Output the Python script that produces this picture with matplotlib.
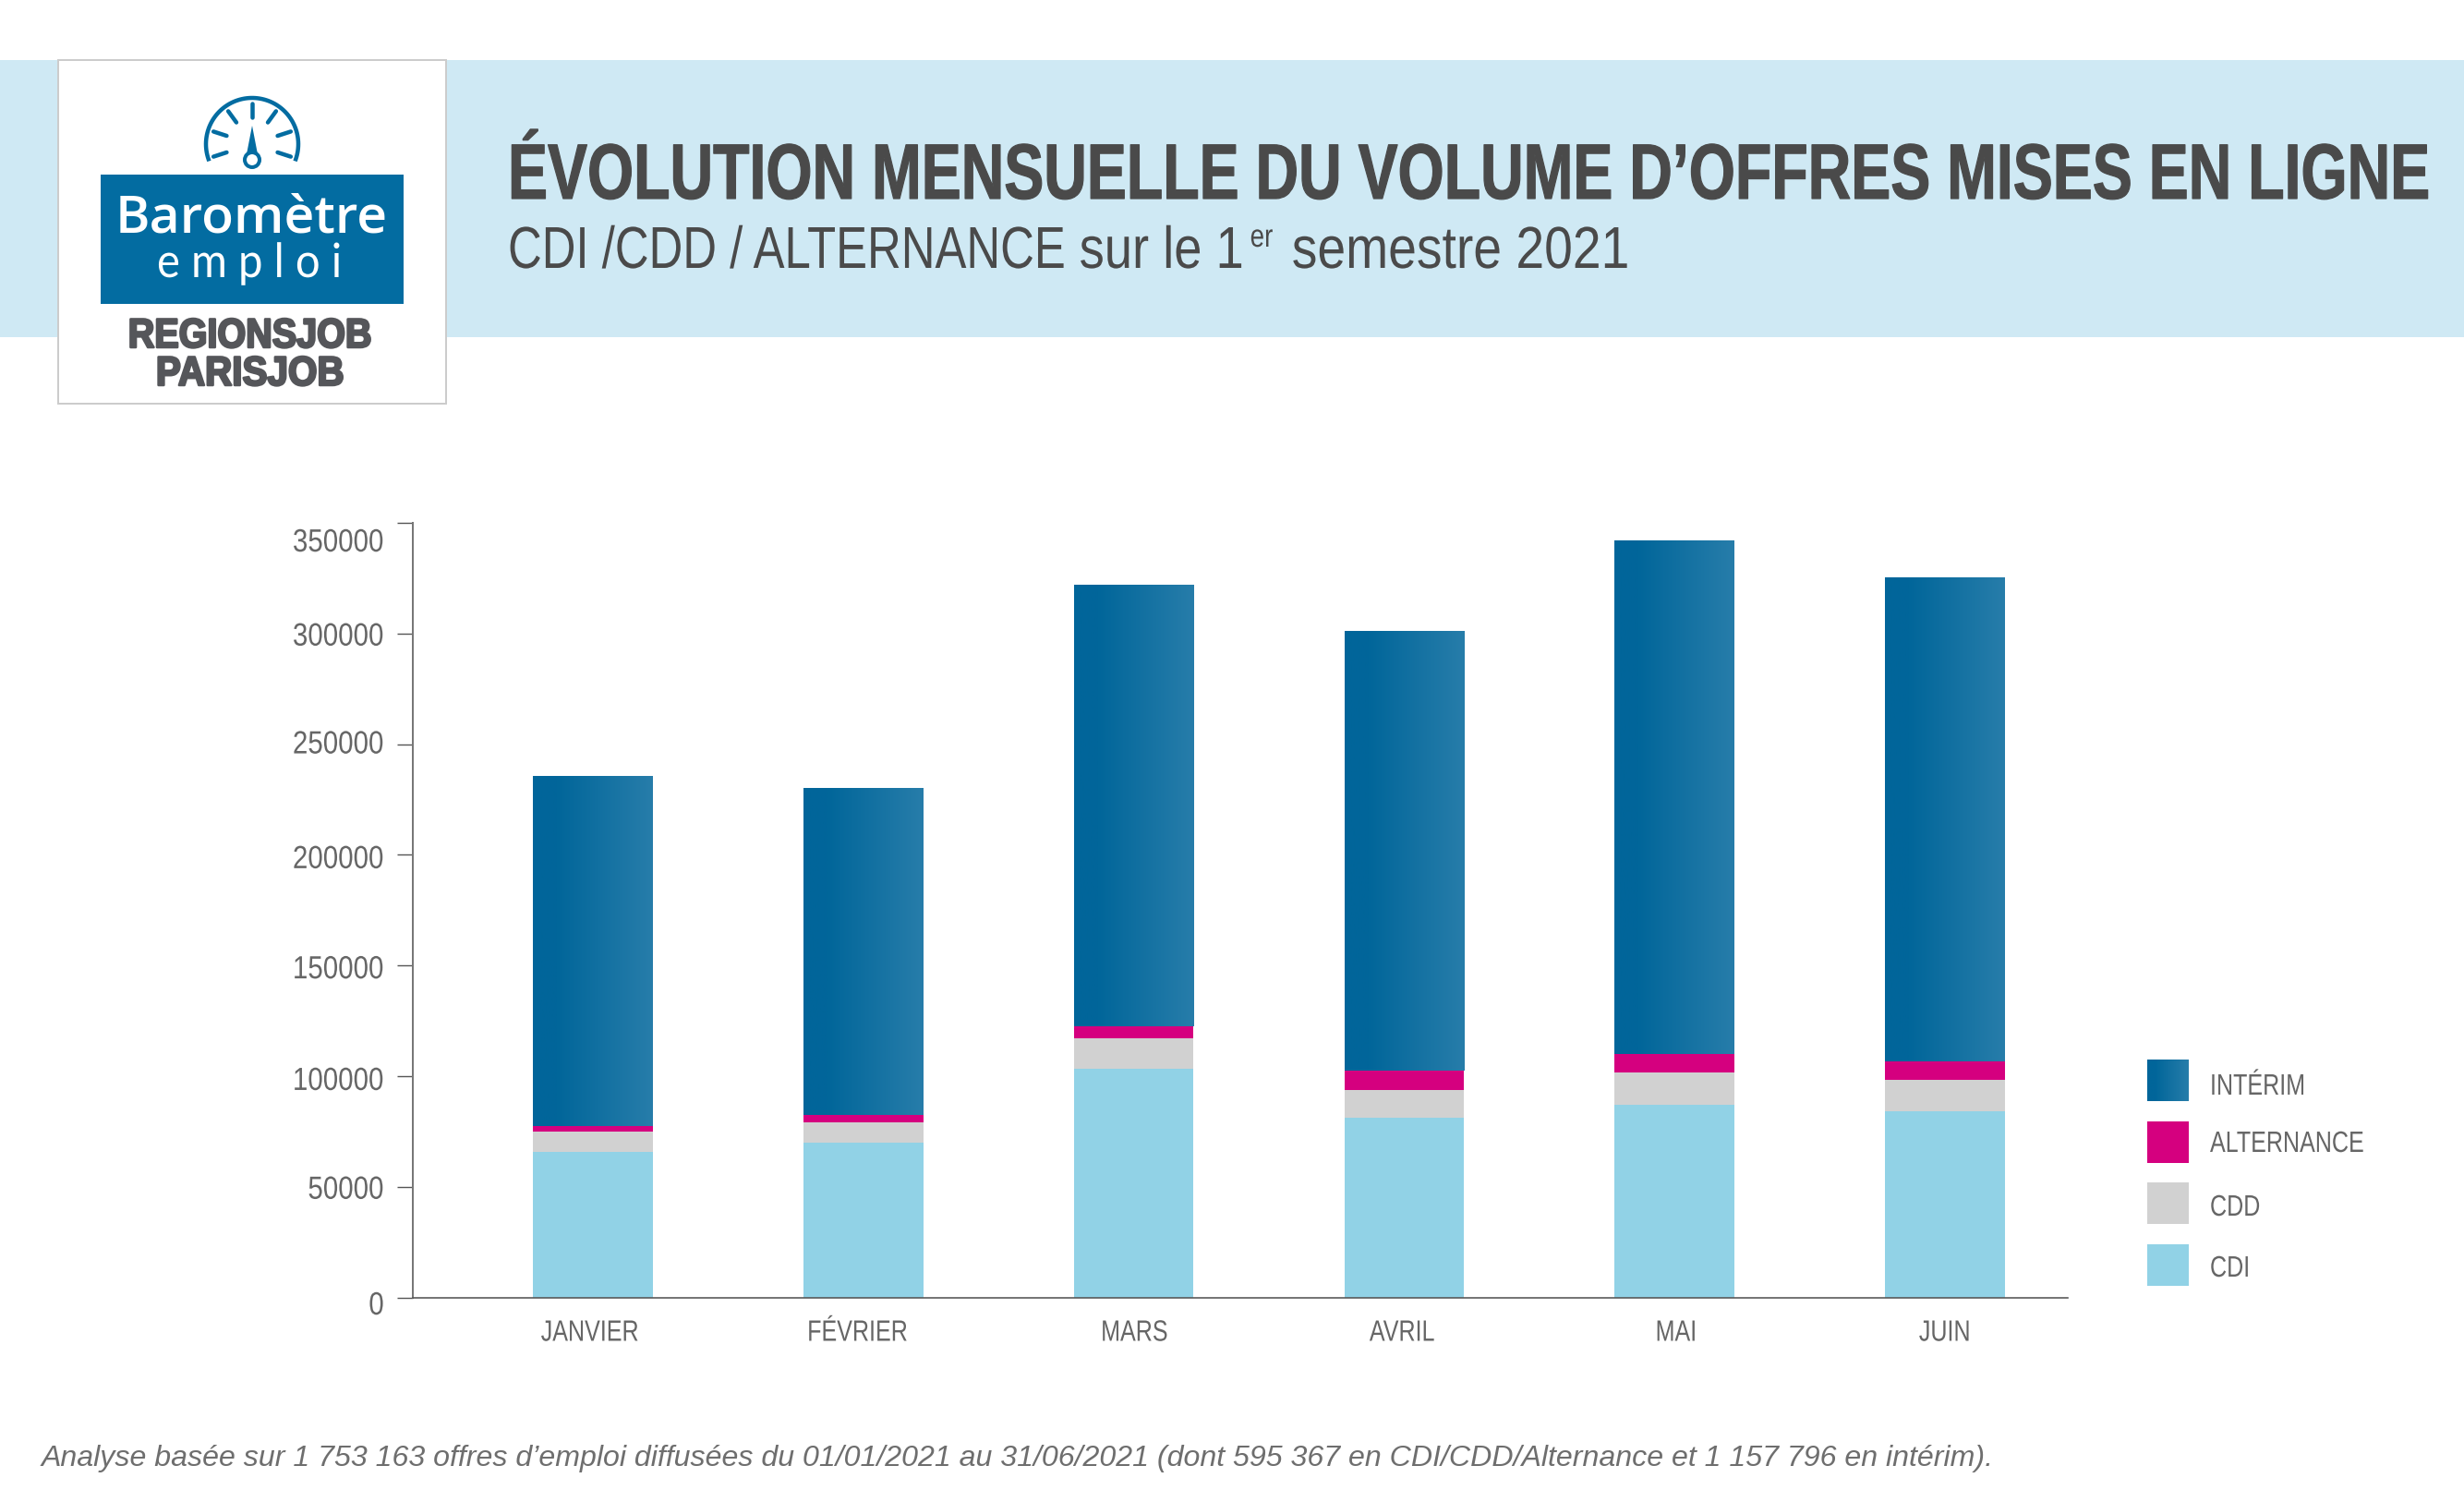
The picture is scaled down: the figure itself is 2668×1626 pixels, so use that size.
import numpy as np
import matplotlib
matplotlib.use('Agg')
import matplotlib.pyplot as plt
from matplotlib.colors import LinearSegmentedColormap
from matplotlib.patches import Rectangle, Circle, Polygon
from matplotlib.transforms import Affine2D, ScaledTranslation
import matplotlib.patheffects as pe

months = ['JANVIER', 'FÉVRIER', 'MARS', 'AVRIL', 'MAI', 'JUIN']
cdi = [65900, 70000, 103400, 81300, 87200, 84200]
cdd = [9000, 9100, 13500, 12300, 14500, 14200]
alternance = [2400, 3200, 5600, 8900, 8200, 8100]
interim = [158300, 147900, 199400, 198500, 232000, 218700]
y_ticks = [0, 50000, 100000, 150000, 200000, 250000, 300000, 350000]
legend_labels = ['INTÉRIM', 'ALTERNANCE', 'CDD', 'CDI']

W, H = 2668, 1626
SANS = 'Liberation Sans'
GREY = '#666666'
DARK = '#4a4a4a'
BLUE = '#036ca1'
PINK = '#d5007f'
LIGHT_GREY = '#d1d1d1'
SKY = '#91d2e6'
LOGO_GREY = '#55565a'
gradient = LinearSegmentedColormap.from_list(
    'interim', [(0, '#01659a'), (0.2, '#01669a'), (1, '#277daa')])
ramp = np.linspace(0, 1, 256).reshape(1, -1)


def px(v):
    return v * 72 / 100


class Squeeze(pe.AbstractPathEffect):
    """Condense a text horizontally, there is no condensed font installed."""

    def __init__(self, sx, anchor=0.0, stroke=0.0):
        self.sx = sx
        self.anchor = anchor  # 0 left aligned, 0.5 centred, 1 right aligned
        self.stroke = stroke

    def draw_path(self, renderer, gc, tpath, affine, rgbFace=None):
        shift = (1 - self.sx) * tpath.get_extents().x1 * self.anchor
        aff = Affine2D().scale(self.sx, 1).translate(shift, 0) + affine
        gc0 = renderer.new_gc()
        gc0.copy_properties(gc)
        gc0.set_linewidth(self.stroke)
        if self.stroke:
            gc0.set_foreground(rgbFace)
        renderer.draw_path(gc0, tpath, aff, rgbFace)
        gc0.restore()


fig = plt.figure(figsize=(W / 100, H / 100), dpi=100, facecolor='white')

# page layer in pixel coordinates: banner, logo, titles, legend, footnote
bg = fig.add_axes([0, 0, 1, 1], zorder=0)
bg.set_xlim(0, W)
bg.set_ylim(H, 0)
bg.axis('off')

bg.add_patch(Rectangle((0, 65), W, 300, fc='#cfe9f4', ec='none'))
bg.add_patch(Rectangle((63, 65), 420, 372, fc='white', ec='#cccccc', lw=px(2)))
bg.add_patch(Rectangle((109, 189), 328, 140, fc=BLUE, ec='none'))

# gauge
cx, cy, r = 273, 156, 50
a = np.radians(np.linspace(-19, 199, 80))
bg.plot(cx + r * np.cos(a), cy - r * np.sin(a), color=BLUE, lw=px(4.5))
for ang in [90, 54, 126, 18, 162, -18, 198]:
    t = np.radians(ang)
    bg.plot([cx + 29 * np.cos(t), cx + 44 * np.cos(t)],
            [cy - 29 * np.sin(t), cy - 44 * np.sin(t)],
            color=BLUE, lw=px(4.5), solid_capstyle='round')
bg.add_patch(Polygon([(273, 136), (267, 167), (279, 167)], fc=BLUE, ec='none'))
bg.add_patch(Circle((273, 173), 8, fc='white', ec=BLUE, lw=px(4)))

bg.text(272, 252, 'Baromètre', color='white', family='Open Sans', weight='semibold',
        fontsize=41, ha='center', va='baseline')
bg.text(270, 300, 'e m p l o i', color='white', family='Lato', fontsize=37,
        ha='center', va='baseline', path_effects=[Squeeze(0.92, 0.5)])
bg.text(271, 376, 'REGIONSJOB', color=LOGO_GREY, family=SANS, weight='bold',
        fontsize=32, ha='center', va='baseline', path_effects=[Squeeze(0.89, 0.5, px(2.5))])
bg.text(271, 417, 'PARISJOB', color=LOGO_GREY, family=SANS, weight='bold',
        fontsize=32, ha='center', va='baseline', path_effects=[Squeeze(0.91, 0.5, px(2.5))])

bg.text(550, 215, 'ÉVOLUTION MENSUELLE DU VOLUME D’OFFRES MISES EN LIGNE',
        color=DARK, family=SANS, weight='bold', fontsize=61, va='baseline',
        path_effects=[Squeeze(0.761, 0, px(1.2))])

# subtitle has a superscript and tighter capitals, so it is chained from measured widths
renderer = fig.canvas.get_renderer()
sx = 550
for chunk, size, base, squeeze, gap in [('CDI /CDD / ALTERNANCE', 46, 290, 0.796, 0),
                                        (' sur le 1', 46, 290, 0.85, 0),
                                        ('er', 25, 267, 0.8, 7),
                                        (' semestre 2021', 46, 290, 0.865, 5)]:
    sx += gap
    t = bg.text(sx, base, chunk, color=DARK, family=SANS, fontsize=size, va='baseline',
                path_effects=[Squeeze(squeeze)])
    sx += t.get_window_extent(renderer).width * squeeze

bg.text(45, 1587, 'Analyse basée sur 1 753 163 offres d’emploi diffusées du 01/01/2021 '
        'au 31/06/2021 (dont 595 367 en CDI/CDD/Alternance et 1 157 796 en intérim).',
        color='#6e6e6e', family=SANS, style='italic', fontsize=23.1, va='baseline')

# legend
swatches = [None, PINK, LIGHT_GREY, SKY]
label_base = [1185, 1247, 1316, 1382]
for i, (label, colour) in enumerate(zip(legend_labels, swatches)):
    top = 1147.5 + i * 66.4
    if colour is None:
        bg.imshow(ramp, cmap=gradient, extent=(2325, 2370, top + 45, top), aspect='auto')
    else:
        bg.add_patch(Rectangle((2325, top), 45, 45, fc=colour, ec='none'))
    bg.text(2393, label_base[i], label, color=GREY, family=SANS, fontsize=23,
            va='baseline', path_effects=[Squeeze(0.785)])
bg.set_xlim(0, W)
bg.set_ylim(H, 0)

# chart
ax = fig.add_axes([446.7 / W, 1 - 1404.5 / H, (2239 - 446.7) / W, (1404.5 - 566) / H], zorder=1)
ax.patch.set_visible(False)
x = np.arange(len(months))
width = 0.443
cdi_a, cdd_a, alt_a, int_a = map(np.array, (cdi, cdd, alternance, interim))
ax.bar(x, cdi_a, width, color=SKY)
ax.bar(x, cdd_a, width, bottom=cdi_a, color=LIGHT_GREY)
ax.bar(x, alt_a, width, bottom=cdi_a + cdd_a, color=PINK)
bars = ax.bar(x, int_a, width, bottom=cdi_a + cdd_a + alt_a, color=BLUE)
for b in bars:
    im = ax.imshow(ramp, cmap=gradient, aspect='auto', zorder=3,
                   extent=(b.get_x(), b.get_x() + b.get_width(),
                           b.get_y(), b.get_y() + b.get_height()))
    im.set_clip_path(b)

ax.set_xlim(-0.667, 5.454)
ax.set_ylim(0, 350000)
for side in ['top', 'right']:
    ax.spines[side].set_visible(False)
ax.spines['left'].set_color('#777777')
ax.spines['left'].set_linewidth(px(2))
ax.spines['bottom'].set_color('#555555')
ax.spines['bottom'].set_linewidth(px(1.6))

ax.set_yticks(y_ticks)
ax.set_yticklabels([str(v) for v in y_ticks], family=SANS, fontsize=25, color=GREY,
                   path_effects=[Squeeze(0.85, 1.0)])
ax.tick_params(axis='y', length=px(16.7), width=px(1.4), color='#555555', pad=px(14))
ax.set_xticks(x)
ax.set_xticklabels(months, family=SANS, fontsize=23, color=GREY,
                   path_effects=[Squeeze(0.785, 0.5)])
ax.tick_params(axis='x', length=0, pad=px(24))

# labels in the original sit slightly off their ticks
y_shift = [-5.5, 0, -2, -1, -1.5, 3, 0, -18]
for lab, dy in zip(ax.get_yticklabels(), y_shift):
    lab.set_transform(lab.get_transform() + ScaledTranslation(0, dy / 100, fig.dpi_scale_trans))
x_shift = [-3, -6, 1, -2, 2, 0]
for lab, dx in zip(ax.get_xticklabels(), x_shift):
    lab.set_transform(lab.get_transform() + ScaledTranslation(dx / 100, 0, fig.dpi_scale_trans))

fig.savefig('out.png', dpi=100)
